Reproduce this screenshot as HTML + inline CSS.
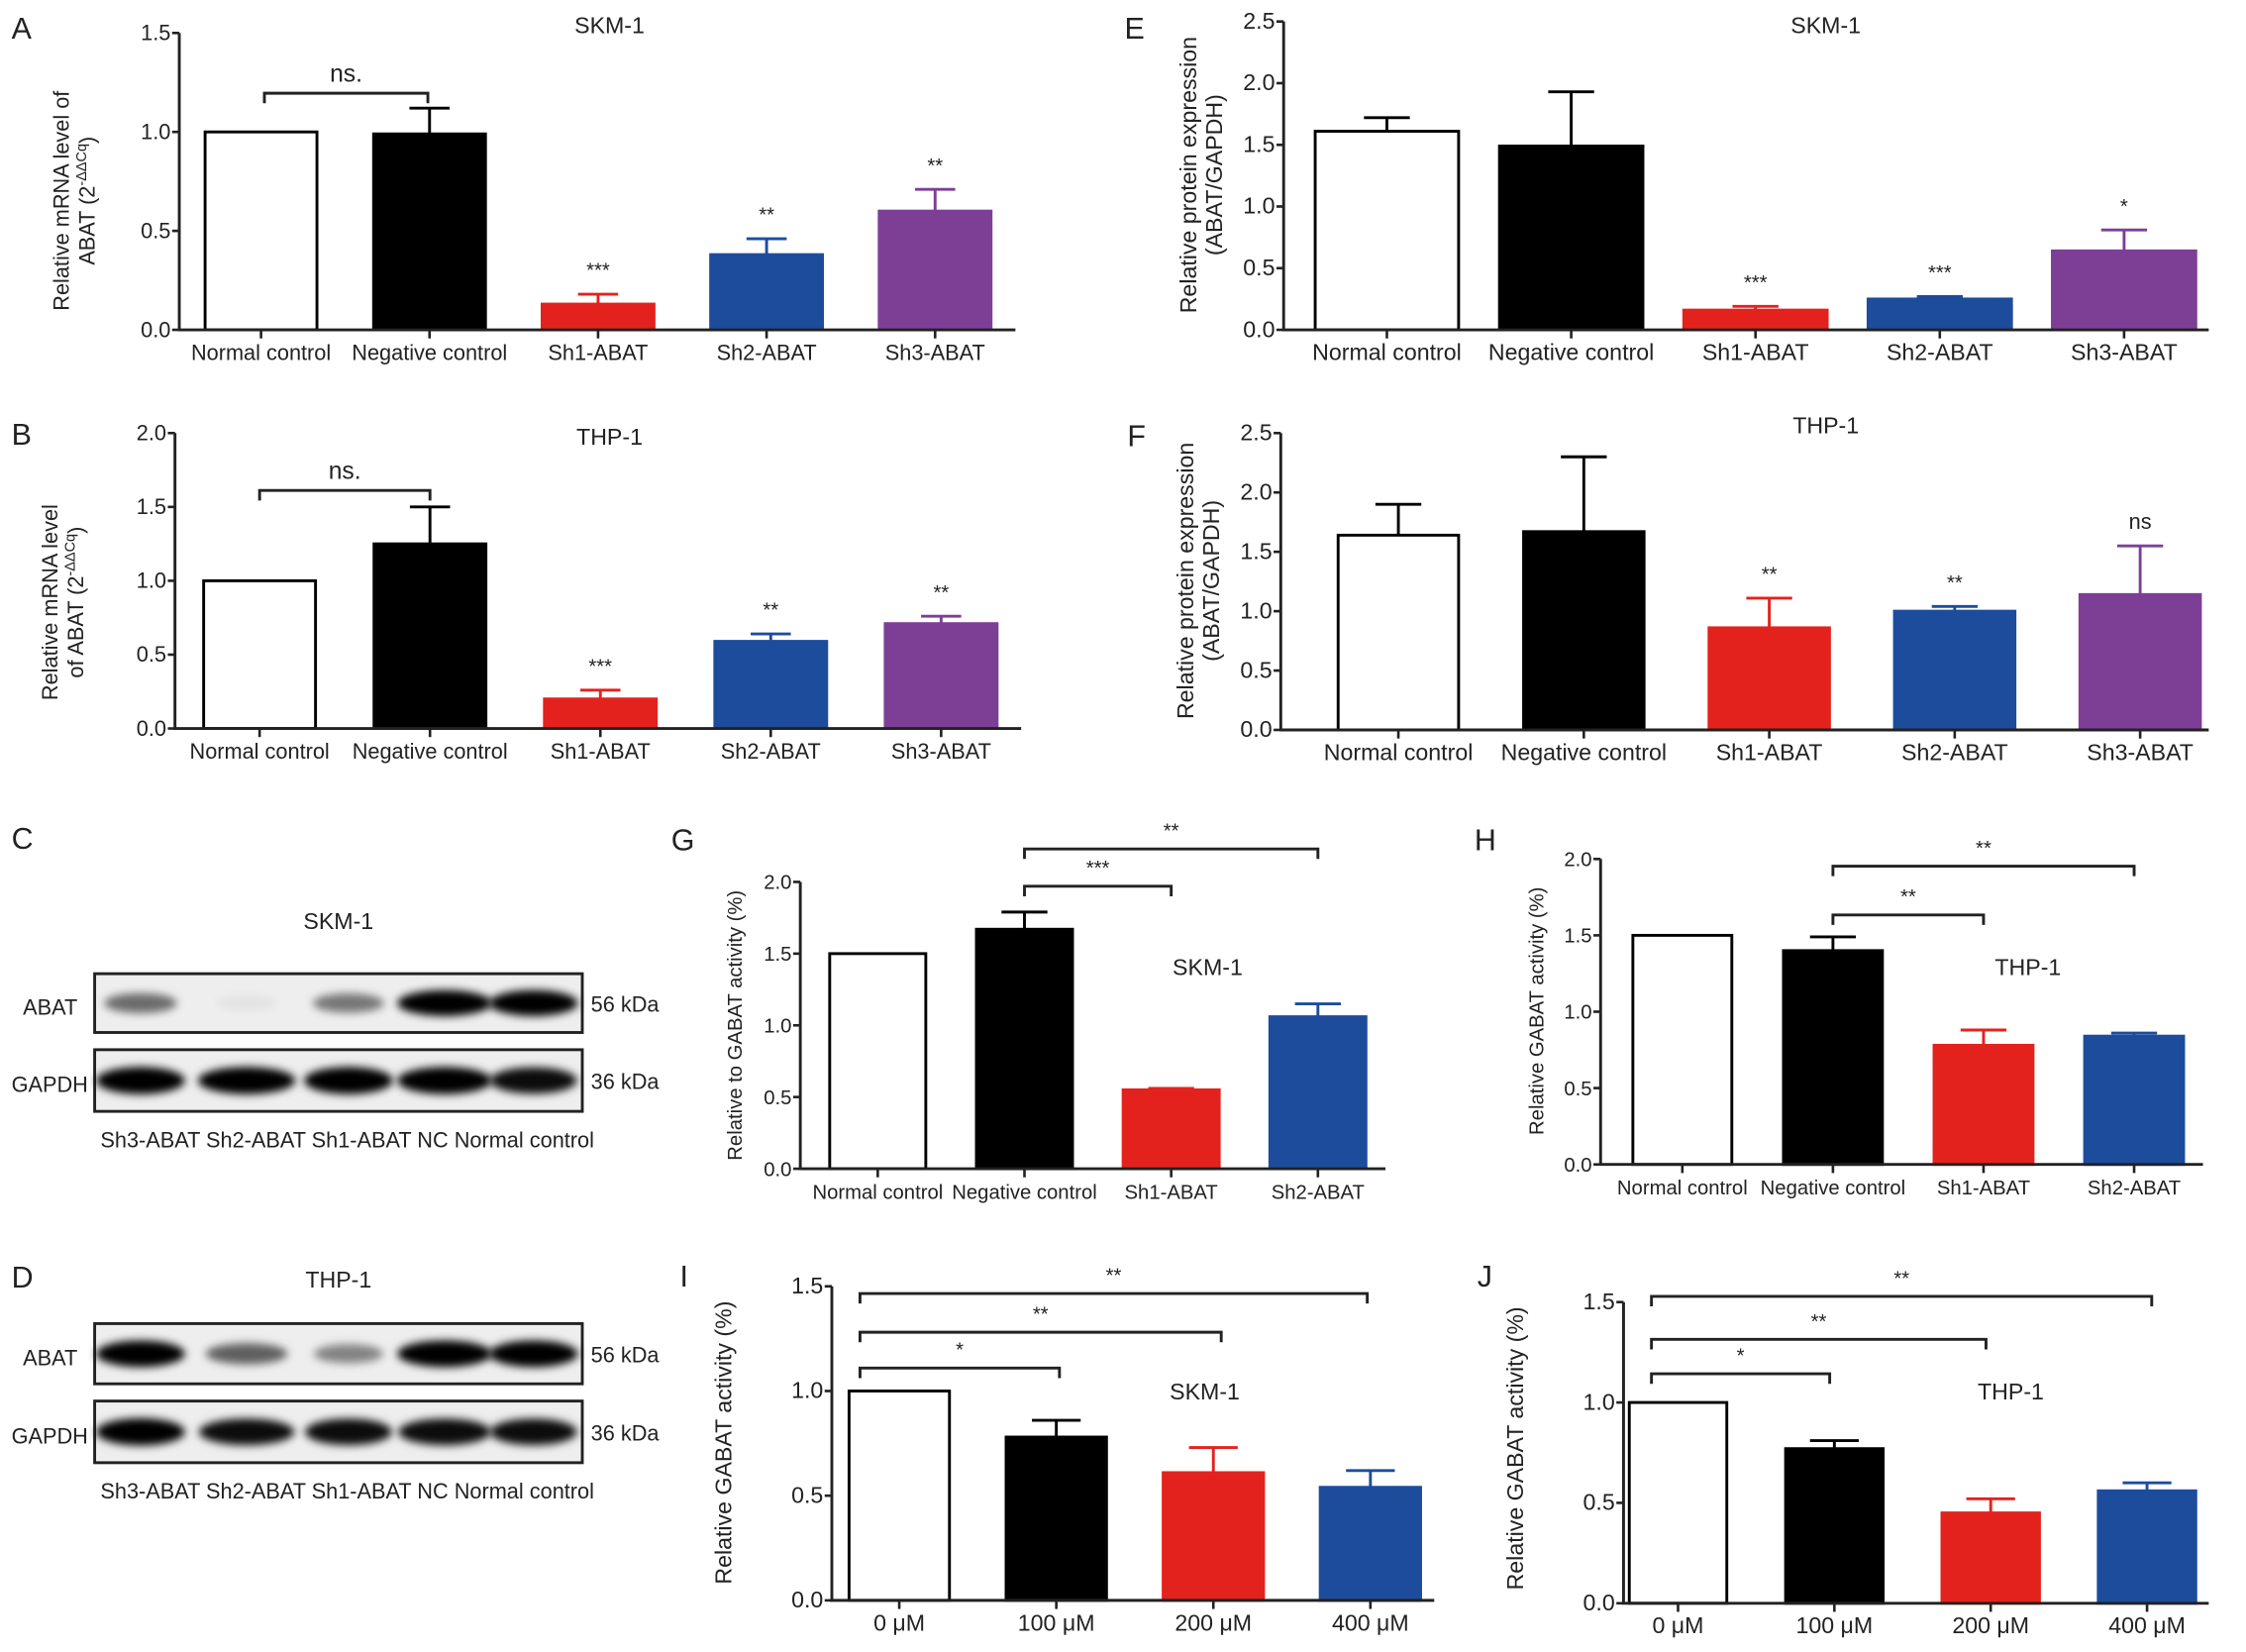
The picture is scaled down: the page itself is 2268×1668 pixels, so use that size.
<!DOCTYPE html>
<html><head><meta charset="utf-8"><style>
html,body{margin:0;padding:0;background:#fff}
svg{display:block}
text{font-family:"Liberation Sans Narrow","Liberation Sans",sans-serif;fill:#222}
</style></head><body>
<svg id="fig" xmlns="http://www.w3.org/2000/svg" width="2268" height="1668" viewBox="0 0 1566 1152" preserveAspectRatio="none">
<defs><filter id="blur" x="-20%" y="-50%" width="140%" height="200%"><feGaussianBlur stdDeviation="3"/></filter></defs>
<g id="blots"></g>
</svg>
<script>
const NS="http://www.w3.org/2000/svg";
const svg=document.getElementById('fig');
const RED="#e3221e",BLUE="#1d4c9c",PURP="#7d3f96";
// ===== data arrays =====
const catsA=["Normal control","Negative control","Sh1-ABAT","Sh2-ABAT","Sh3-ABAT"];
const valsA=[1.0,0.99,0.13,0.38,0.60];
const errA=[1.0,1.12,0.18,0.46,0.71];
const starsA=["","","***","**","**"];
const ticksA=["0.0","0.5","1.0","1.5"];
const valsB=[1.0,1.25,0.20,0.59,0.71];
const errB=[1.0,1.50,0.26,0.64,0.76];
const starsB=["","","***","**","**"];
const ticksB=["0.0","0.5","1.0","1.5","2.0"];
const valsE=[1.61,1.49,0.16,0.25,0.64];
const errE=[1.72,1.93,0.19,0.27,0.81];
const starsE=["","","***","***","*"];
const ticksE=["0.0","0.5","1.0","1.5","2.0","2.5"];
const valsF=[1.64,1.67,0.86,1.00,1.14];
const errF=[1.90,2.30,1.11,1.04,1.55];
const starsF=["","","**","**","ns"];
const ticksF=["0.0","0.5","1.0","1.5","2.0","2.5"];
const catsG=["Normal control","Negative control","Sh1-ABAT","Sh2-ABAT"];
const valsG=[1.50,1.67,0.55,1.06];
const errG=[1.50,1.79,0.56,1.15];
const ticksG=["0.0","0.5","1.0","1.5","2.0"];
const valsH=[1.50,1.40,0.78,0.84];
const errH=[1.50,1.49,0.88,0.86];
const ticksH=["0.0","0.5","1.0","1.5","2.0"];
const catsI=["0 μM","100 μM","200 μM","400 μM"];
const valsI=[1.0,0.78,0.61,0.54];
const errI=[1.0,0.86,0.73,0.62];
const ticksI=["0.0","0.5","1.0","1.5"];
const valsJ=[1.0,0.77,0.45,0.56];
const errJ=[1.0,0.81,0.52,0.60];
const ticksJ=["0.0","0.5","1.0","1.5"];
const colors5=["#fff","#000",RED,BLUE,PURP];
const colors4=["#fff","#000",RED,BLUE];

function el(tag,attrs,parent,txt){const e=document.createElementNS(NS,tag);for(const k in attrs)e.setAttribute(k,attrs[k]);if(txt!==undefined)e.textContent=txt;(parent||svg).appendChild(e);return e;}

function chart(o){
  const g=el('g',{});
  
  
  const ymax=parseFloat(o.ticks[o.ticks.length-1]);
  const Y=v=>o.y0-(o.y0-o.ytop)*v/ymax;
  const X=i=>o.c0+i*o.step;
  o.vals.forEach((v,i)=>{
    const col=o.colors[i];
    const ey=Y(o.errs[i]);
    if(o.errs[i]>v){
      const eb=el('path',{d:`M${X(i)} ${Y(v)}V${ey}M${X(i)-o.cap} ${ey}H${X(i)+o.cap}`,stroke:col==="#fff"?"#000":col,'stroke-width':2,fill:'none'},g);
      
      
    }
    const r=el('rect',{x:X(i)-o.bw/2+1,y:Y(v),width:o.bw-2,height:o.y0-Y(v),fill:col,stroke:col==="#fff"?"#000":col,'stroke-width':2},g);
    
    
    if(o.stars&&o.stars[i]){
      const s=el('text',{x:X(i),y:ey-12,'text-anchor':'middle','font-size':o.stars[i]==='ns'?15:14},g,o.stars[i]);
      
      
    }
    const xl=el('text',{x:X(i),y:o.y0+21,'text-anchor':'middle','font-size':o.fs},g,o.cats[i]);
    
    
    el('line',{x1:X(i),x2:X(i),y1:o.y0,y2:o.y0+6,stroke:'#222','stroke-width':1.8},g);
  });
  const ax=el('path',{d:`M${o.x0} ${o.ytop}V${o.y0}H${o.xend}`,stroke:'#222','stroke-width':2,fill:'none'},g);
  
  
  o.ticks.forEach(t=>{
    const y=Y(parseFloat(t));
    el('line',{x1:o.x0-5,x2:o.x0,y1:y,y2:y,stroke:'#222','stroke-width':1.8},g);
    const tl=el('text',{x:o.x0-6,y:y+5,'text-anchor':'end','font-size':o.fs},g,t);
    
    
  });
  o.ytitle.forEach((l,k)=>{
    const tx=o.ytx+k*18;
    const t=el('text',{x:0,y:0,'text-anchor':'middle','font-size':o.fs,transform:`translate(${tx},${o.yty}) rotate(-90)`},g);
    t.innerHTML=l;
    
    
  });
  const ti=el('text',{x:o.tx,y:o.ty,'text-anchor':'middle','font-size':16},g,o.title);
  
  
  const pl=el('text',{x:o.lx,y:o.ly,'font-size':21},g,o.letter);
  
  
  (o.brackets||[]).forEach(b=>{
    const p=el('path',{d:`M${X(b[0])} ${b[2]+7}V${b[2]}H${X(b[1])}V${b[2]+7}`,stroke:'#222','stroke-width':2,fill:'none'},g);
    
    
    const s=el('text',{x:(X(b[0])+X(b[1]))/2,y:b[2]-8,'text-anchor':'middle','font-size':b[3]==='ns.'?17:14},g,b[3]);
    
    
  });
}

chart({name:'chart-a',letter:'A',lx:8,ly:27,title:'SKM-1',tx:425,ty:23,cats:catsA,vals:valsA,errs:errA,stars:starsA,ticks:ticksA,colors:colors5,
  x0:125,xend:708,y0:230,ytop:23,c0:182,step:117.5,bw:80,cap:14,fs:15,
  ytitle:['Relative mRNA level of','ABAT (2<tspan font-size="10" dy="-6">-ΔΔCq</tspan><tspan dy="6">)</tspan>'],ytx:48,yty:140,
  brackets:[[0.02,0.99,65,'ns.']]});
chart({name:'chart-b',letter:'B',lx:8,ly:310,title:'THP-1',tx:425,ty:310,cats:catsA,vals:valsB,errs:errB,stars:starsB,ticks:ticksB,colors:colors5,
  x0:122,xend:712,y0:508,ytop:302,c0:181,step:118.8,bw:80,cap:14,fs:15,
  ytitle:['Relative mRNA level','of ABAT (2<tspan font-size="10" dy="-6">-ΔΔCq</tspan><tspan dy="6">)</tspan>'],ytx:40,yty:420,
  brackets:[[0,1,342,'ns.']]});
chart({name:'chart-e',letter:'E',lx:784,ly:27,title:'SKM-1',tx:1273,ty:23,cats:catsA,vals:valsE,errs:errE,stars:starsE,ticks:ticksE,colors:colors5,
  x0:895,xend:1540,y0:230,ytop:15,c0:967,step:128.5,bw:102,cap:16,fs:16,
  ytitle:['Relative protein expression','(ABAT/GAPDH)'],ytx:834,yty:122});
chart({name:'chart-f',letter:'F',lx:786,ly:311,title:'THP-1',tx:1273,ty:302,cats:catsA,vals:valsF,errs:errF,stars:starsF,ticks:ticksF,colors:colors5,
  x0:893,xend:1540,y0:509,ytop:302,c0:975,step:129.3,bw:86,cap:16,fs:16,
  ytitle:['Relative protein expression','(ABAT/GAPDH)'],ytx:832,yty:405});
chart({name:'chart-g',letter:'G',lx:468,ly:593,title:'SKM-1',tx:842,ty:680,cats:catsG,vals:valsG,errs:errG,ticks:ticksG,colors:colors4,
  x0:558,xend:966,y0:815,ytop:615,c0:612,step:102.3,bw:69,cap:16,fs:14,
  ytitle:['Relative to GABAT activity (%)'],ytx:517,yty:715,
  brackets:[[1,2,618,'***'],[1,3,592,'**']]});
chart({name:'chart-h',letter:'H',lx:1028,ly:593,title:'THP-1',tx:1414,ty:680,cats:catsG,vals:valsH,errs:errH,ticks:ticksH,colors:colors4,
  x0:1116,xend:1536,y0:812,ytop:599,c0:1173,step:105,bw:71,cap:16,fs:14,
  ytitle:['Relative GABAT activity (%)'],ytx:1076,yty:705,
  brackets:[[1,2,638,'**'],[1,3,604,'**']]});
chart({name:'chart-i',letter:'I',lx:474,ly:897,title:'SKM-1',tx:840,ty:976,cats:catsI,vals:valsI,errs:errI,ticks:ticksI,colors:colors4,
  x0:580,xend:1000,y0:1116,ytop:897,c0:627,step:109.5,bw:72,cap:17,fs:16,
  ytitle:['Relative GABAT activity (%)'],ytx:510,yty:1006,
  brackets:[[-0.25,1.02,954,'*'],[-0.25,2.05,929,'**'],[-0.25,2.98,902,'**']]});
chart({name:'chart-j',letter:'J',lx:1030,ly:897,title:'THP-1',tx:1402,ty:976,cats:catsI,vals:valsJ,errs:errJ,ticks:ticksJ,colors:colors4,
  x0:1132,xend:1540,y0:1118,ytop:908,c0:1170,step:109,bw:70,cap:17,fs:16,
  ytitle:['Relative GABAT activity (%)'],ytx:1062,yty:1010,
  brackets:[[-0.17,0.97,958,'*'],[-0.17,1.97,934,'**'],[-0.17,3.03,904,'**']]});

// ===== western blots =====
const blotLanes=["Sh3-ABAT","Sh2-ABAT","Sh1-ABAT","NC","Normal control"];
const skmAbat=[0.55,0.05,0.5,1,1];
const skmGapdh=[1,1,1,1,0.95];
const thpAbat=[1,0.6,0.45,1,1];
const thpGapdh=[1,0.95,0.95,0.95,0.95];
const bl=document.getElementById('blots');
function blot(name,title,ty,boxes,label,ly){
  const g=el('g',{},bl);
  
  
  el('text',{x:8,y:ly,'font-size':21},g,label);
  el('text',{x:236,y:ty,'text-anchor':'middle','font-size':16},g,title);
  const lx=[98,172,243,310,372], lw=[62,68,62,66,62];
  boxes.forEach(b=>{
    el('rect',{x:66,y:b.y,width:340,height:b.h,fill:'#eee',stroke:'#222','stroke-width':2},g);
    b.vals.forEach((v,i)=>{
      const e=el('ellipse',{cx:lx[i],cy:b.y+b.h/2,rx:lw[i]/2*(0.6+0.4*v),ry:b.h*0.22*(0.5+0.5*v),fill:'#000','fill-opacity':v,filter:'url(#blur)'},g);
      
      
    });
    el('text',{x:b.name==='ABAT'?16:8,y:b.y+b.h/2+8,'font-size':15},g,b.name);
    el('text',{x:412,y:b.y+b.h/2+6,'font-size':15},g,b.kda);
  });
  const lt=el('text',{x:70,y:boxes[1].y+boxes[1].h+25,'font-size':15},g,blotLanes.join(' '));
  
  
}
blot('blot-c','SKM-1',648,[{y:679,h:41,vals:skmAbat,name:'ABAT',kda:'56 kDa'},{y:732,h:43,vals:skmGapdh,name:'GAPDH',kda:'36  kDa'}],'C',592);
blot('blot-d','THP-1',898,[{y:923,h:42,vals:thpAbat,name:'ABAT',kda:'56 kDa'},{y:977,h:43,vals:thpGapdh,name:'GAPDH',kda:'36  kDa'}],'D',898);
</script>
</body></html>
